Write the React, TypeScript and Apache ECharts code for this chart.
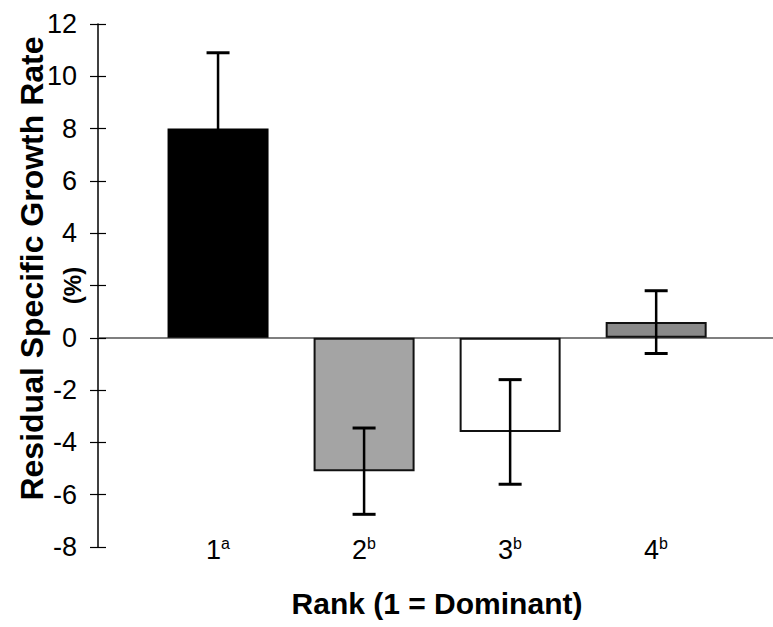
import React, { useEffect, useRef } from "react";
import * as echarts from "echarts";

// ---- data ----
const categories = ["1", "2", "3", "4"];
const groupLetters = ["a", "b", "b", "b"];
const rankPositions = [1, 2, 3, 4];
const meanValues = [8.0, -5.1, -3.6, 0.6];
const errorValues = [2.9, 1.65, 2.0, 1.2];
const barColors = ["#000000", "#a4a4a4", "#ffffff", "#8a8a8a"];
const yMin = -8;
const yMax = 12;
const yInterval = 2;
const hiddenTickLabels = [2];

const FONT = "'Liberation Sans', Arial, sans-serif";

export default function App() {
  const ref = useRef<HTMLDivElement>(null);

  useEffect(() => {
    if (!ref.current) return;
    const chart = echarts.init(ref.current, null, { renderer: "svg" });

    const barData = meanValues.map((v, i) => ({
      value: [rankPositions[i], v],
      itemStyle: {
        color: barColors[i],
        borderColor: "#111",
        borderWidth: i === 0 ? 0 : 2,
      },
    }));

    const errData = meanValues.map((v, i) => [rankPositions[i], v, errorValues[i]]);

    const option: any = {
      animation: false,
      backgroundColor: "#ffffff",
      grid: [
        { left: 98, right: 0, top: 24, bottom: 80, outerBoundsMode: "none", containLabel: false },
        { left: 145, right: 44, top: 24, bottom: 92, outerBoundsMode: "none", containLabel: false },
      ],
      xAxis: [
        {
          type: "value",
          gridIndex: 0,
          min: 0.178,
          max: 4.8,
          axisLine: {
            show: true,
            onZero: true,
            onZeroAxisIndex: 0,
            lineStyle: { color: "#555", width: 1.5 },
          },
          axisTick: { show: false },
          axisLabel: { show: false },
          splitLine: { show: false },
        },
        {
          type: "category",
          gridIndex: 1,
          data: categories,
          axisLine: { show: false },
          axisTick: { show: false },
          splitLine: { show: false },
          axisLabel: {
            margin: 0,
            formatter: (val: string, idx: number) => `{n|${val}}{s|${groupLetters[idx]}}`,
            rich: {
              n: { fontFamily: FONT, fontSize: 27, color: "#000", lineHeight: 30 },
              s: { fontFamily: FONT, fontSize: 16, color: "#000", verticalAlign: "top", lineHeight: 30 },
            },
          },
          name: "Rank (1 = Dominant)",
          nameLocation: "middle",
          nameGap: 53,
          nameMoveOverlap: false,
          nameTextStyle: {
            fontFamily: FONT,
            fontSize: 30,
            fontWeight: "bold",
            color: "#000",
          },
        },
      ],
      yAxis: [
        {
          type: "value",
          gridIndex: 0,
          position: "left",
          min: yMin,
          max: yMax,
          interval: yInterval,
          axisLine: { show: true, onZero: false, lineStyle: { color: "#000", width: 1.5 } },
          axisTick: { show: true, length: 8, lineStyle: { color: "#000", width: 1.2 } },
          axisLabel: {
            margin: 21,
            fontFamily: FONT,
            fontSize: 27,
            color: "#000",
            formatter: (v: number) => (hiddenTickLabels.includes(v) ? "" : String(v)),
          },
          splitLine: { show: false },
          name: "{a|Residual Specific Growth Rate}\n{b|(%)}",
          nameLocation: "middle",
          nameRotate: 90,
          nameGap: 6,
          nameMoveOverlap: false,
          nameTextStyle: {
            rich: {
              a: {
                fontFamily: FONT,
                fontSize: 32,
                fontWeight: "bold",
                color: "#000",
                lineHeight: 40,
                padding: [0, 0, 0, 34],
              },
              b: {
                fontFamily: FONT,
                fontSize: 24,
                fontWeight: "bold",
                color: "#000",
                lineHeight: 40,
              },
            },
          },
        },
        {
          type: "value",
          gridIndex: 0,
          position: "left",
          offset: 0,
          min: yMin,
          max: yMax,
          interval: yInterval,
          axisLine: { show: false, onZero: false },
          axisTick: { show: true, inside: true, length: 8, lineStyle: { color: "#000", width: 1.2 } },
          axisLabel: { show: false },
          splitLine: { show: false },
        },
        {
          type: "value",
          gridIndex: 1,
          min: yMin,
          max: yMax,
          show: false,
        },
      ],
      series: [
        {
          type: "bar",
          xAxisIndex: 0,
          yAxisIndex: 0,
          barWidth: 101,
          data: barData,
        },
        {
          type: "custom",
          xAxisIndex: 0,
          yAxisIndex: 0,
          z: 5,
          data: errData,
          encode: { x: 0, y: 1 },
          renderItem: (params: any, api: any) => {
            const x = api.value(0);
            const v = api.value(1);
            const e = api.value(2);
            const top = api.coord([x, v + e]);
            const bot = api.coord([x, v - e]);
            const half = 11.5;
            const style = { stroke: "#000", lineWidth: 2.5 };
            return {
              type: "group",
              children: [
                { type: "line", shape: { x1: top[0], y1: top[1], x2: bot[0], y2: bot[1] }, style },
                { type: "line", shape: { x1: top[0] - half, y1: top[1], x2: top[0] + half, y2: top[1] }, style: { stroke: "#000", lineWidth: 3 } },
                { type: "line", shape: { x1: bot[0] - half, y1: bot[1], x2: bot[0] + half, y2: bot[1] }, style: { stroke: "#000", lineWidth: 3 } },
              ],
            };
          },
        },
      ],
    };

    chart.setOption(option);
    return () => chart.dispose();
  }, []);

  return (
    <div
      ref={ref}
      style={{ position: "absolute", left: 0, top: 0, width: 773, height: 627, background: "#fff" }}
    />
  );
}
